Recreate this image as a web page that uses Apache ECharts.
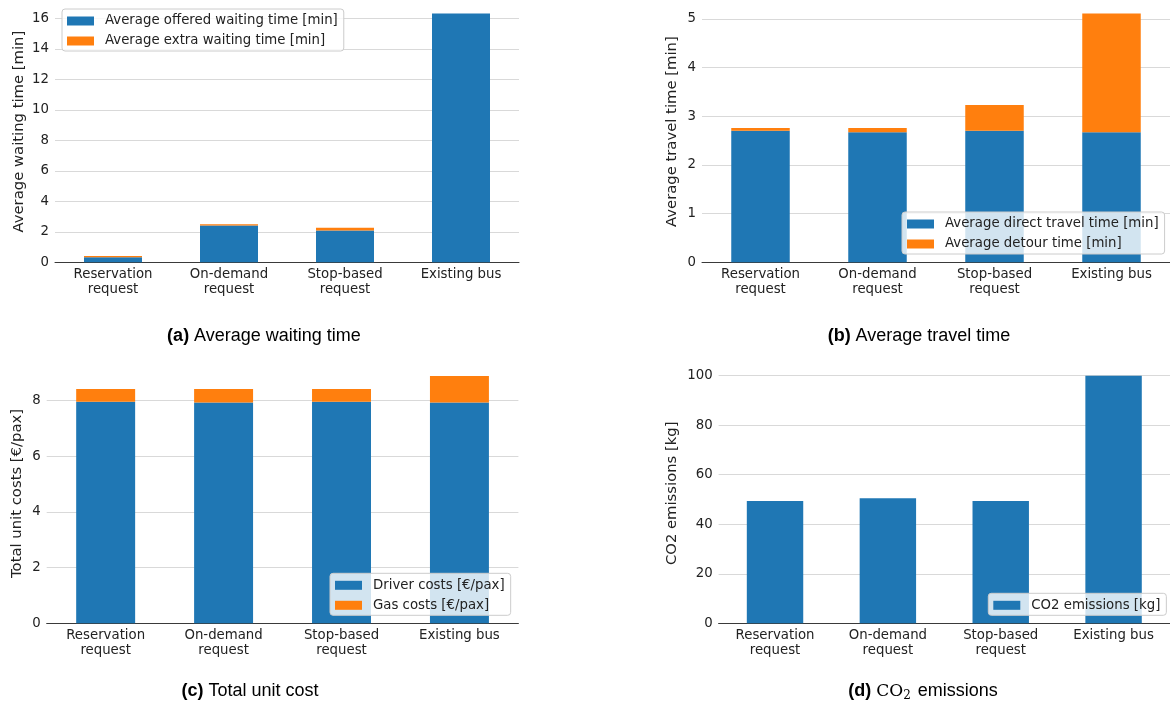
<!DOCTYPE html>
<html>
<head>
<meta charset="utf-8">
<title>On-demand service comparison</title>
<script src="https://cdn.jsdelivr.net/npm/echarts@6/dist/echarts.min.js"></script>
<style>
  html, body { margin: 0; padding: 0; background: #fff; }
  #chart { width: 1170px; height: 708px; }
</style>
</head>
<body>
<div id="chart"></div>
<script>
// Service variants compared in every panel
const categories = ['Reservation\nrequest', 'On-demand\nrequest', 'Stop-based\nrequest', 'Existing bus'];

// (a) waiting time [min]
const offeredWaiting = [0.33, 2.41, 2.08, 16.33];
const extraWaiting = [0.08, 0.09, 0.18, 0];

// (b) travel time [min]
const directTravel = [2.70, 2.67, 2.70, 2.67];
const detourTime = [0.06, 0.09, 0.53, 2.44];

// (c) unit costs [€/pax]
const driverCosts = [7.96, 7.94, 7.96, 7.94];
const gasCosts = [0.46, 0.48, 0.46, 0.95];

// (d) emissions [kg]
const co2Emissions = [49.4, 50.5, 49.4, 100];

// y tick spacing per panel
const tickSteps = [2, 1, 2, 20];

const BLUE = '#1f77b4';
const ORANGE = '#ff7f0e';
const FONT = 'DejaVu Sans';
const FS = 13.3;

const grids = [
  { left: 55, top: 1, width: 464, height: 261.3 },
  { left: 702, top: 1, width: 471, height: 261.3 },
  { left: 46.7, top: 363.6, width: 471.7, height: 259.7 },
  { left: 718.6, top: 363.3, width: 455, height: 260 }
];

const yNames = ['Average waiting time [min]', 'Average travel time [min]', 'Total unit costs [€/pax]', 'CO2 emissions [kg]'];
const yNameGaps = [28.5, 22, 22, 38.5];

const xAxes = grids.map((g, i) => ({
  type: 'category',
  gridIndex: i,
  data: categories,
  boundaryGap: true,
  axisTick: { show: false },
  axisLine: { lineStyle: { color: '#3a3a3a', width: 1 } },
  axisLabel: { color: '#222', fontFamily: FONT, fontSize: FS, lineHeight: 15, margin: 5, interval: 0 }
}));

const yAxes = grids.map((g, i) => ({
  type: 'value',
  gridIndex: i,
  min: 0,
  max: v => v.max * 1.05,
  interval: tickSteps[i],
  name: yNames[i],
  nameLocation: 'middle',
  nameGap: yNameGaps[i],
  nameTextStyle: { color: '#222', fontFamily: FONT, fontSize: 14.8 },
  axisLine: { show: false },
  axisTick: { show: false },
  axisLabel: { color: '#222', fontFamily: FONT, fontSize: FS, margin: 6, showMaxLabel: false },
  splitLine: { show: true, showMaxLine: false, lineStyle: { color: '#d9d9d9', width: 1 } }
}));

function bar(name, data, idx, color, stack) {
  return {
    type: 'bar', name, data, stack,
    xAxisIndex: idx, yAxisIndex: idx,
    barWidth: '50%',
    itemStyle: { color },
    emphasis: { disabled: true }
  };
}

const series = [
  bar('Average offered waiting time [min]', offeredWaiting, 0, BLUE, 'a'),
  bar('Average extra waiting time [min]', extraWaiting, 0, ORANGE, 'a'),
  bar('Average direct travel time [min]', directTravel, 1, BLUE, 'b'),
  bar('Average detour time [min]', detourTime, 1, ORANGE, 'b'),
  bar('Driver costs [€/pax]', driverCosts, 2, BLUE, 'c'),
  bar('Gas costs [€/pax]', gasCosts, 2, ORANGE, 'c'),
  bar('CO2 emissions [kg]', co2Emissions, 3, BLUE, 'd')
];

function legend(names, left, top) {
  return {
    data: names,
    orient: 'vertical',
    left, top,
    itemWidth: 27,
    itemHeight: 9,
    itemGap: 6,
    padding: [5, 6, 3, 5],
    backgroundColor: 'rgba(255,255,255,0.8)',
    borderColor: '#cccccc',
    borderWidth: 1,
    borderRadius: 3,
    selectedMode: false,
    icon: 'rect',
    textStyle: { color: '#222', fontFamily: FONT, fontSize: FS, lineHeight: 14, padding: [0, 0, 0, 6] }
  };
}

const legends = [
  legend([series[0].name, series[1].name], 62, 9),
  legend([series[2].name, series[3].name], 902, 212),
  legend([series[4].name, series[5].name], 330, 573.3),
  legend([series[6].name], 988.3, 593.3)
];

const captionRich = {
  b: { fontFamily: 'Liberation Sans', fontSize: 18, fontWeight: 'bold', fill: '#000' },
  t: { fontFamily: 'Liberation Sans', fontSize: 18, fill: '#000' },
  m: { fontFamily: 'DejaVu Serif', fontSize: 17, fill: '#000' },
  sub: { fontFamily: 'DejaVu Serif', fontSize: 12, fill: '#000', padding: [8, 2, 0, 0] }
};

function caption(text, x, y) {
  return {
    type: 'text', x, y, silent: true,
    style: { text, rich: captionRich, align: 'center', verticalAlign: 'middle', fontFamily: 'Liberation Sans', fontSize: 18, fill: '#000' }
  };
}

const chart = echarts.init(document.getElementById('chart'), null, { renderer: 'canvas' });
chart.setOption({
  animation: false,
  backgroundColor: '#fff',
  grid: grids,
  xAxis: xAxes,
  yAxis: yAxes,
  legend: legends,
  series,
  graphic: [
    caption('{b|(a)}{t| Average waiting time}', 264, 336.5),
    caption('{b|(b)}{t| Average travel time}', 919, 336.5),
    caption('{b|(c)}{t| Total unit cost}', 250, 691.5),
    caption('{b|(d)}{t| }{m|CO}{sub|2}{t| emissions}', 923, 691.5)
  ]
});
</script>
</body>
</html>
